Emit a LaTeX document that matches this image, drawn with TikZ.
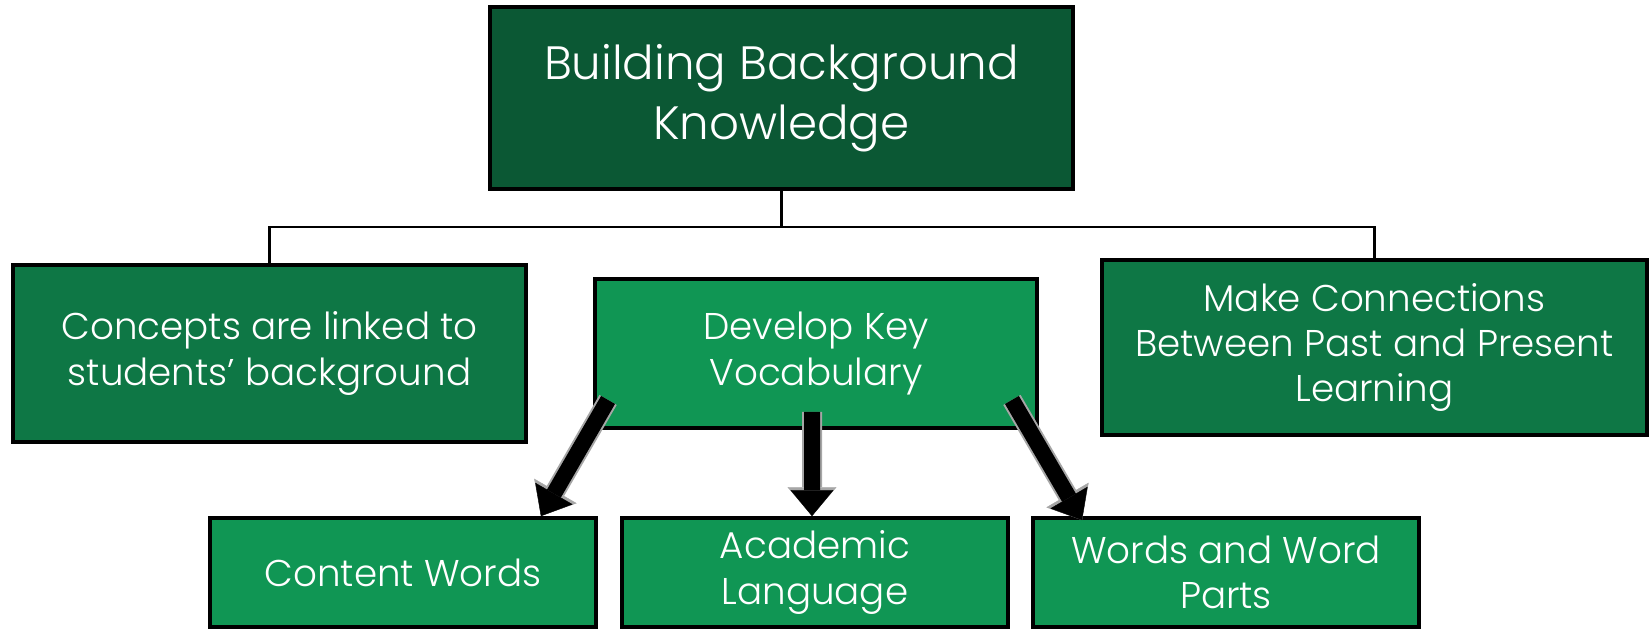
\documentclass[tikz,border=0pt]{standalone}
\usepackage{fontspec}
\setmainfont{Poppins}[UprightFont={* Light}]
\usepackage{tikz}
\usetikzlibrary{arrows.meta, positioning, calc}
\definecolor{darkgreen}{HTML}{0B5834}
\definecolor{midgreen}{HTML}{0E7745}
\definecolor{lightgreen}{HTML}{109654}
\tikzstyle{box} = [rectangle, draw=black, line width=1.1pt, text=white, align=center, font=\fontsize{10.6}{12.9}\selectfont]
\tikzstyle{title} = [box, fill=darkgreen, font=\fontsize{13.3}{17}\selectfont]
\tikzstyle{branch} = [box, fill=midgreen]
\tikzstyle{vocab} = [box, fill=lightgreen]
\tikzstyle{line} = [line width=0.6pt]
\tikzstyle{fatarrow} = [line width=0.16cm, -{Triangle[width=0.43cm,length=0.26cm,line width=0.1pt]}, preaction={draw=gray!70, line width=0.2cm, -{Triangle[width=0.49cm,length=0.29cm,line width=0.1pt]}}]

\begin{document}
\begin{tikzpicture}
    \useasboundingbox (0,0) rectangle (16.5,-6.31);
    \node[title, minimum width=5.83cm, minimum height=1.82cm] (top) at (7.815,-0.98) {Building Background\\Knowledge};
    \node[branch, minimum width=5.13cm, minimum height=1.77cm] (concepts) at (2.695,-3.535) {Concepts are linked to\\students’ background};
    \node[vocab, minimum width=4.42cm, minimum height=1.49cm] (keyvocab) at (8.16,-3.535) {Develop Key\\Vocabulary};
    \node[branch, minimum width=5.45cm, minimum height=1.75cm] (connect) at (13.745,-3.475) {Make Connections\\Between Past and Present\\Learning};
    \node[vocab, minimum width=3.86cm, minimum height=1.09cm] (content) at (4.03,-5.725) {Content Words};
    \node[vocab, minimum width=3.86cm, minimum height=1.09cm] (academic) at (8.15,-5.725) {Academic\\Language};
    \node[vocab, minimum width=3.86cm, minimum height=1.09cm] (parts) at (12.26,-5.725) {Words and Word\\Parts};

    \draw[line] (top.south) -- ++(0,-0.36) -| (concepts.north);
    \draw[line] (top.south) -- ++(0,-0.36) -| (connect.north);
    \draw[fatarrow] ([shift={(0.15,0.3)}]keyvocab.south west) -- ([xshift=-0.57cm]content.north east);
    \draw[fatarrow] ([shift={(-0.04,0.18)}]keyvocab.south) -- ([xshift=-0.03cm]academic.north);
    \draw[fatarrow] ([shift={(-0.27,0.3)}]keyvocab.south east) -- ([shift={(0.51,-0.04)}]parts.north west);
\end{tikzpicture}
\end{document}
